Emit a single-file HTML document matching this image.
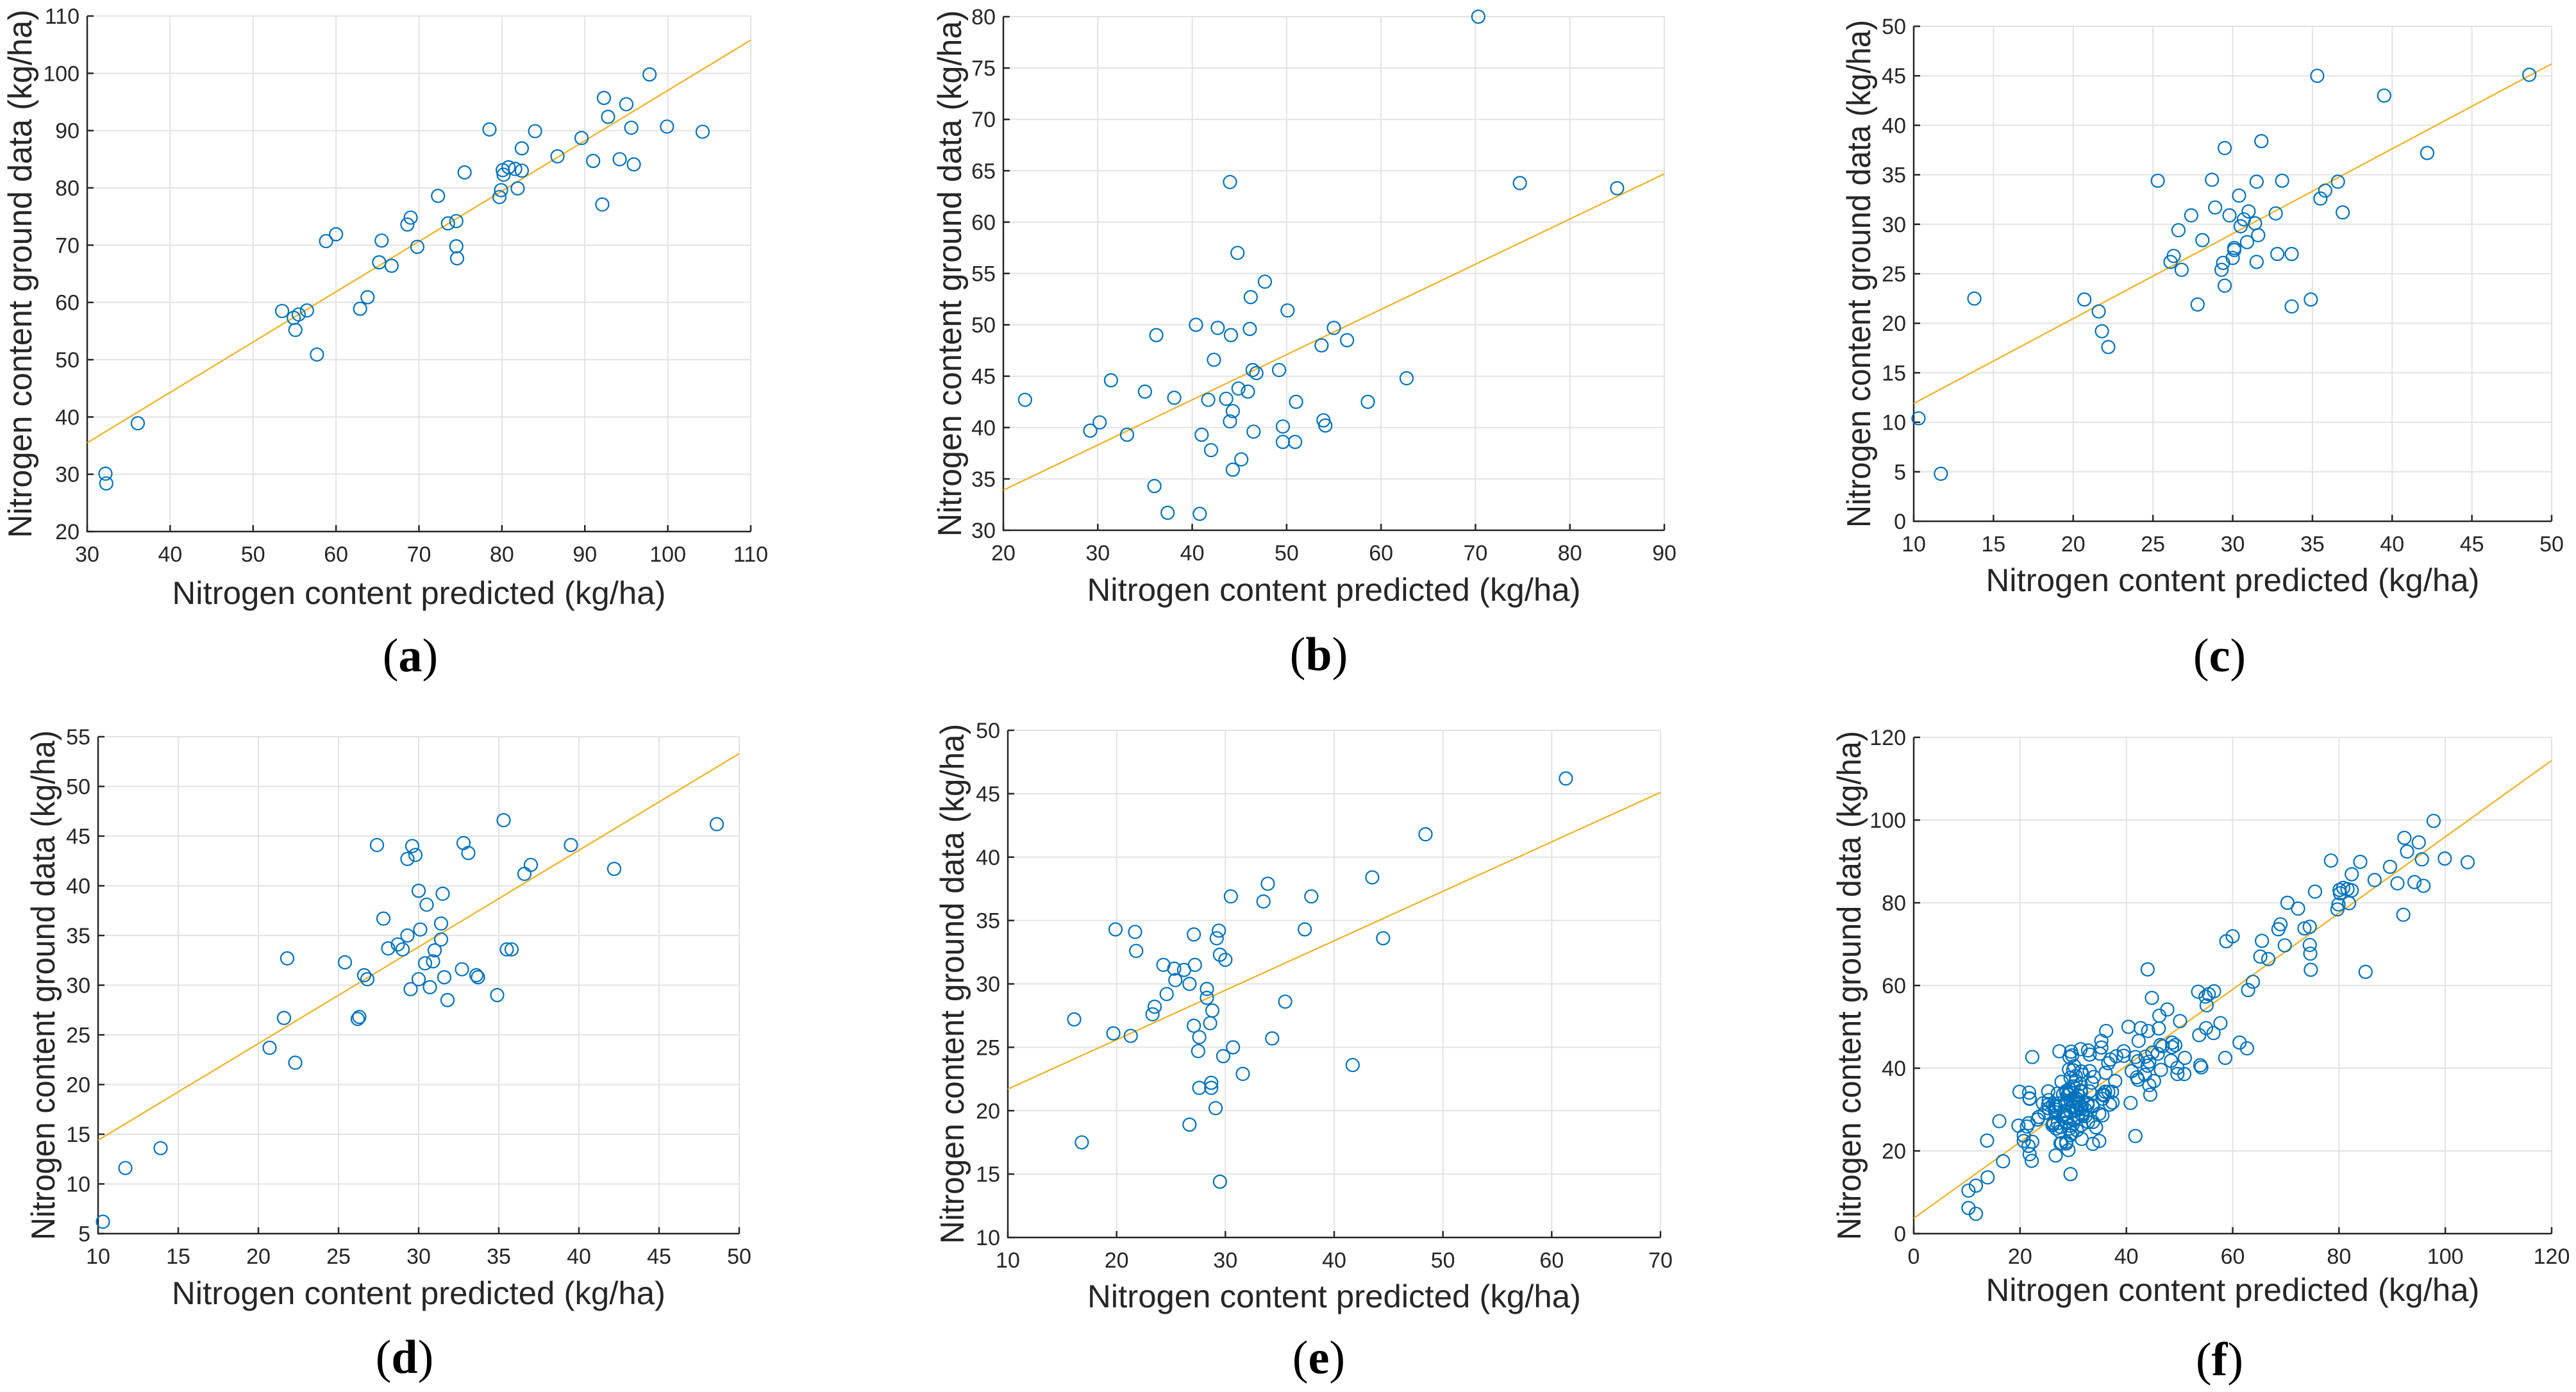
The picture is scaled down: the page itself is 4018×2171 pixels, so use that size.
<!DOCTYPE html>
<html><head><meta charset="utf-8"><title>Nitrogen content scatter plots</title>
<style>html,body{margin:0;padding:0;background:#fff;}svg{display:block;}</style></head>
<body>
<svg id="fig" xmlns="http://www.w3.org/2000/svg" width="4018" height="2171" viewBox="0 0 4018 2171"></svg>
<script>
// ---- data ----
const aX=[32.2,32.3,36.1,53.5,54.9,55.5,55.1,56.5,57.7,58.8,60.0,62.9,63.8,65.2,65.5,66.7,68.6,69.0,69.8,72.3,73.5,74.5,74.5,74.6,75.5,78.5,79.7,79.9,80.1,80.2,80.8,81.6,81.9,82.4,82.4,84.0,86.7,89.6,91.0,92.1,92.3,92.8,94.2,95.0,95.6,95.9,97.8,99.9,104.2];
const aY=[30.1,28.4,38.9,58.5,57.3,57.9,55.2,58.6,50.9,70.7,71.9,58.9,60.9,67.0,70.8,66.4,73.6,74.8,69.7,78.6,73.8,74.2,69.8,67.7,82.7,90.2,78.4,79.6,83.1,82.3,83.6,83.3,79.9,83.0,86.9,89.9,85.5,88.7,84.7,77.1,95.7,92.4,85.0,94.6,90.5,84.1,99.8,90.7,89.8];
const bX=[22.3,29.2,30.2,31.4,33.1,35.0,36.0,36.2,37.4,38.1,40.4,40.8,41.0,41.7,42.0,42.3,42.7,43.6,44.0,44.0,44.1,44.3,44.3,44.8,44.9,45.2,45.9,46.1,46.2,46.4,46.5,46.8,47.7,49.2,49.6,49.6,50.1,50.9,51.0,53.7,53.9,54.1,55.0,56.4,58.6,62.7,70.3,74.7,85.0];
const bY=[42.7,39.7,40.5,44.6,39.3,43.5,34.3,49.0,31.7,42.9,50.0,31.6,39.3,42.7,37.8,46.6,49.7,42.8,63.9,40.6,49.0,41.6,35.9,57.0,43.8,36.9,43.5,49.6,52.7,45.6,39.6,45.3,54.2,45.6,40.1,38.6,51.4,38.6,42.5,48.0,40.7,40.2,49.7,48.5,42.5,44.8,80.0,63.8,63.3];
const cX=[10.3,11.7,13.8,20.7,21.6,21.8,22.2,25.3,26.1,26.3,26.6,26.8,27.4,27.8,28.1,28.7,28.9,29.3,29.4,29.5,29.5,29.8,30.0,30.1,30.1,30.4,30.5,30.7,30.9,31.0,31.4,31.5,31.5,31.6,31.8,32.7,32.8,33.1,33.7,33.7,34.9,35.3,35.5,35.8,36.6,36.9,39.5,42.2,48.6];
const cY=[10.4,4.8,22.5,22.4,21.2,19.2,17.6,34.4,26.2,26.8,29.4,25.4,30.9,21.9,28.4,34.5,31.7,25.4,26.1,37.7,23.8,30.9,26.6,27.4,27.6,32.9,29.8,30.5,28.2,31.3,30.1,34.3,26.2,28.9,38.4,31.1,27.0,34.4,27.0,21.7,22.4,45.0,32.6,33.4,34.3,31.2,43.0,37.2,45.1];
const dX=[10.3,11.7,13.9,20.7,21.6,21.8,22.3,25.4,26.2,26.3,26.6,26.8,27.4,27.8,28.1,28.7,29.0,29.3,29.3,29.5,29.6,29.8,30.0,30.0,30.1,30.4,30.5,30.7,30.9,31.0,31.4,31.4,31.5,31.6,31.8,32.7,32.8,33.1,33.6,33.7,34.9,35.3,35.5,35.8,36.6,37.0,39.5,42.2,48.6];
const dY=[6.2,11.6,13.6,23.7,26.7,32.7,22.2,32.3,26.6,26.8,31.0,30.6,44.1,36.7,33.7,34.1,33.6,35.0,42.7,29.6,44.0,43.1,39.5,30.6,35.6,32.2,38.1,29.8,32.4,33.5,34.6,36.2,39.2,30.8,28.5,31.6,44.3,43.3,31.0,30.8,29.0,46.6,33.6,33.6,41.2,42.1,44.1,41.7,46.2];
const eX=[16.1,16.8,19.7,19.9,21.3,21.7,21.8,23.3,23.5,24.3,24.6,25.3,25.4,26.2,26.7,26.7,27.1,27.1,27.2,27.5,27.6,27.6,28.3,28.3,28.6,28.7,28.7,28.8,29.1,29.2,29.4,29.5,29.5,29.8,30.0,30.5,30.7,31.6,33.5,33.9,34.3,35.5,37.3,37.9,41.7,43.5,44.5,48.4,61.3];
const eY=[27.2,17.5,26.1,34.3,25.9,34.1,32.6,27.6,28.2,31.5,29.2,31.2,30.3,31.1,18.9,30.0,26.7,33.9,31.5,24.7,25.8,21.8,29.6,28.9,26.9,22.2,21.8,27.9,20.2,33.6,34.2,14.4,32.3,24.3,31.9,36.9,25.0,22.9,36.5,37.9,25.7,28.6,34.3,36.9,23.6,38.4,33.6,41.8,46.2];
// (f) = all samples combined
const fX=[].concat(aX,bX,cX,dX,eX);
const fY=[].concat(aY,bY,cY,dY,eY);
// fitted-line values at the x-axis limits
const aFit=[35.5,105.8], bFit=[33.9,64.7], cFit=[11.9,46.2], dFit=[14.4,53.3], eFit=[21.7,45.1], fFit=[3.7,114.4];
// axis ticks
const aXTicks=[30,40,50,60,70,80,90,100,110], aYTicks=[20,30,40,50,60,70,80,90,100,110];
const bXTicks=[20,30,40,50,60,70,80,90], bYTicks=[30,35,40,45,50,55,60,65,70,75,80];
const cXTicks=[10,15,20,25,30,35,40,45,50], cYTicks=[0,5,10,15,20,25,30,35,40,45,50];
const dXTicks=[10,15,20,25,30,35,40,45,50], dYTicks=[5,10,15,20,25,30,35,40,45,50,55];
const eXTicks=[10,20,30,40,50,60,70], eYTicks=[10,15,20,25,30,35,40,45,50];
const fXTicks=[0,20,40,60,80,100,120], fYTicks=[0,20,40,60,80,100,120];
const subLabels=['a','b','c','d','e','f'];

// ---- layout ----
const panels=[
 {id:'a',xs:aX,ys:aY,fit:aFit,xt:aXTicks,yt:aYTicks,box:[136,25,1171,829],ylx:31,xly:925,sx:640,sy:1021},
 {id:'b',xs:bX,ys:bY,fit:bFit,xt:bXTicks,yt:bYTicks,box:[1565,26,2596,827],ylx:1481,xly:920,sx:2057,sy:1019},
 {id:'c',xs:cX,ys:cY,fit:cFit,xt:cXTicks,yt:cYTicks,box:[2985,41,3980,813],ylx:2899,xly:905,sx:3462,sy:1021},
 {id:'d',xs:dX,ys:dY,fit:dFit,xt:dXTicks,yt:dYTicks,box:[153,1149,1153,1924],ylx:67,xly:2017,sx:631,sy:2115},
 {id:'e',xs:eX,ys:eY,fit:eFit,xt:eXTicks,yt:eYTicks,box:[1572,1139,2590,1930],ylx:1485,xly:2022,sx:2057,sy:2116},
 {id:'f',xs:fX,ys:fY,fit:fFit,xt:fXTicks,yt:fYTicks,box:[2985,1150,3980,1924],ylx:2884,xly:2012,sx:3462,sy:2119}
];
const NS='http://www.w3.org/2000/svg';
const svg=document.getElementById('fig');
function mk(tag,attrs,parent){const e=document.createElementNS(NS,tag);for(const k in attrs)e.setAttribute(k,attrs[k]);parent.appendChild(e);return e;}
const FONT='"Liberation Sans", Arial, sans-serif';

panels.forEach((p,pi)=>{
  const [L,T,R,B]=p.box;
  const x0=p.xt[0],x1=p.xt[p.xt.length-1],y0=p.yt[0],y1=p.yt[p.yt.length-1];
  const sx=v=>L+(v-x0)/(x1-x0)*(R-L);
  const sy=v=>B-(v-y0)/(y1-y0)*(B-T);
  const g=mk('g',{},svg);
  
  
  // grid
  const grid=mk('g',{stroke:'#e3e3e3','stroke-width':2},g);
  
  
  p.xt.forEach(v=>{mk('line',{x1:sx(v),x2:sx(v),y1:T,y2:B},grid);});
  p.yt.forEach(v=>{mk('line',{x1:L,x2:R,y1:sy(v),y2:sy(v)},grid);});
  // axes
  const ax=mk('g',{stroke:'#262626','stroke-width':2.5,fill:'none'},g);
  
  
  mk('polyline',{points:`${L},${T} ${L},${B} ${R},${B}`},ax);
  p.xt.forEach(v=>{mk('line',{x1:sx(v),x2:sx(v),y1:B,y2:B-10},ax);});
  p.yt.forEach(v=>{mk('line',{x1:L,x2:L+10,y1:sy(v),y2:sy(v)},ax);});
  // tick labels
  const xl=mk('g',{fill:'#262626','font-family':FONT,'font-size':34,'text-anchor':'middle'},g);
  
  
  p.xt.forEach(v=>{const t=mk('text',{x:sx(v),y:B+47},xl);t.textContent=v;});
  const yl=mk('g',{fill:'#262626','font-family':FONT,'font-size':34,'text-anchor':'end'},g);
  
  
  p.yt.forEach(v=>{const t=mk('text',{x:L-12,y:sy(v)+12},yl);t.textContent=v;});
  // fit line
  const fl=mk('line',{x1:sx(x0),y1:sy(p.fit[0]),x2:sx(x1),y2:sy(p.fit[1]),stroke:'#EDB120','stroke-width':2.2},g);
  
  
  // points
  const pts=mk('g',{fill:'none',stroke:'#0072BD','stroke-width':2.2},g);
  
  
  p.xs.forEach((xv,i)=>{
    const c=mk('circle',{cx:sx(xv),cy:sy(p.ys[i]),r:10},pts);
    
    
  });
  // axis titles
  const xt=mk('text',{x:(L+R)/2,y:p.xly+17,'text-anchor':'middle','font-family':FONT,'font-size':50,fill:'#262626',textLength:770,lengthAdjust:'spacingAndGlyphs'},g);
  xt.textContent='Nitrogen content predicted (kg/ha)';
  
  
  const ycy=(T+B)/2;
  const yt=mk('text',{x:0,y:0,'text-anchor':'middle','font-family':FONT,'font-size':52,fill:'#262626',textLength:Math.min(830,B-T+20),lengthAdjust:'spacingAndGlyphs',transform:`translate(${p.ylx+18},${ycy}) rotate(-90)`},g);
  yt.textContent='Nitrogen content ground data (kg/ha)';
  
  
  // subfigure label
  const sl=mk('text',{x:p.sx,y:p.sy+26,'text-anchor':'middle','font-family':'"Liberation Serif", "Times New Roman", serif','font-size':74,fill:'#000'},g);
  
  
  mk('tspan',{},sl).textContent='(';
  mk('tspan',{'font-weight':'bold'},sl).textContent=subLabels[pi];
  mk('tspan',{},sl).textContent=')';
});
</script>
</body></html>
